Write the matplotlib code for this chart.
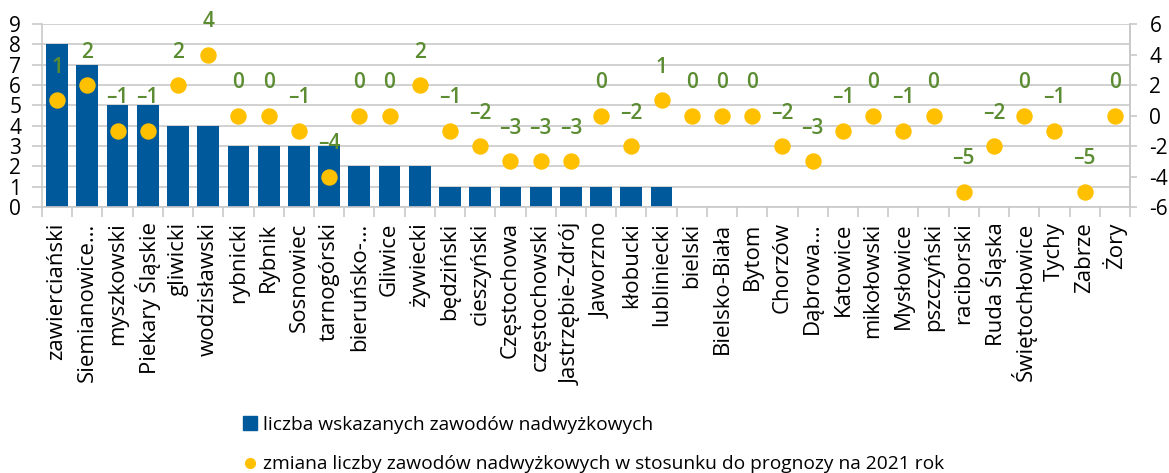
import matplotlib
matplotlib.use("Agg")
import matplotlib.pyplot as plt
from matplotlib.lines import Line2D

categories = [
    "zawierciański", "Siemianowice…", "myszkowski", "Piekary Śląskie",
    "gliwicki", "wodzisławski", "rybnicki", "Rybnik", "Sosnowiec",
    "tarnogórski", "bieruńsko-…", "Gliwice", "żywiecki", "będziński",
    "cieszyński", "Częstochowa", "częstochowski", "Jastrzębie-Zdrój",
    "Jaworzno", "kłobucki", "lubliniecki", "bielski", "Bielsko-Biała",
    "Bytom", "Chorzów", "Dąbrowa…", "Katowice", "mikołowski", "Mysłowice",
    "pszczyński", "raciborski", "Ruda Śląska", "Świętochłowice", "Tychy",
    "Zabrze", "Żory",
]
surplus_count = [8, 7, 5, 5, 4, 4, 3, 3, 3, 3, 2, 2, 2, 1, 1, 1, 1, 1,
                 1, 1, 1, 0, 0, 0, 0, 0, 0, 0, 0, 0, 0, 0, 0, 0, 0, 0]
change_vs_2021 = [1, 2, -1, -1, 2, 4, 0, 0, -1, -4, 0, 0, 2, -1, -2, -3, -3, -3,
                  0, -2, 1, 0, 0, 0, -2, -3, -1, 0, -1, 0, -5, -2, 0, -1, -5, 0]

legend_labels = [
    "liczba wskazanych zawodów nadwyżkowych",
    "zmiana liczby zawodów nadwyżkowych w stosunku do prognozy na 2021 rok",
]

BLUE = "#00599B"
YELLOW = "#FFC000"
GREEN = "#5B8C32"
GRID = "#C9C9C9"

plt.rcParams['font.family'] = ['Open Sans', 'DejaVu Sans']
plt.rcParams['axes.unicode_minus'] = False

fig = plt.figure(figsize=(11.69, 4.73), dpi=100)
ax = fig.add_axes([42 / 1169, 1 - 207 / 473, 1088 / 1169, 183 / 473])

x = list(range(len(categories)))
ax.bar(x, surplus_count, width=0.72, color=BLUE, zorder=2)
ax.set_xlim(-0.5, len(categories) - 0.5)
ax.set_ylim(0, 9)
ax.set_yticks(range(10))
ax.yaxis.grid(True, color=GRID, lw=1.2)
ax.set_axisbelow(True)

ax.set_xticks(x)
ax.set_xticklabels(categories, rotation=90, fontsize=16)
ax.tick_params(axis='x', which='major', length=0, pad=11)
ax.set_xticks([i - 0.5 for i in range(len(categories) + 1)], minor=True)
ax.tick_params(axis='x', which='minor', length=7, color=GRID, width=1.2)
ax.tick_params(axis='y', length=7, color=GRID, width=1.2, labelsize=15, pad=8)
ax.spines['top'].set_visible(False)
for s in ['left', 'right', 'bottom']:
    ax.spines[s].set_color(GRID)
    ax.spines[s].set_linewidth(1.2)

ax2 = ax.twinx()
ax2.set_ylim(-6, 6)
ax2.set_yticks(range(-6, 7, 2))
ax2.tick_params(axis='y', length=5, color=GRID, width=1.2, labelsize=15, pad=9)
for s in ['top', 'left', 'bottom']:
    ax2.spines[s].set_visible(False)
ax2.spines['right'].set_color(GRID)
ax2.spines['right'].set_linewidth(1.2)

ax2.plot(x, change_vs_2021, 'o', color=YELLOW, markersize=10.8, zorder=3)
for i, v in zip(x, change_vs_2021):
    ax2.annotate(str(v).replace('-', '–'), (i, v), xytext=(0, 33),
                 textcoords='offset pixels', ha='center', va='center',
                 color=GREEN, fontsize=15, fontweight='semibold')

handles = [
    Line2D([], [], marker='s', ls='none', color=BLUE, markersize=9.4),
    Line2D([], [], marker='o', ls='none', color=YELLOW, markersize=7),
]
fig.legend(handles, legend_labels, loc='upper left',
           bbox_to_anchor=(242 / 1169, 1 - 416 / 473), frameon=False,
           fontsize=13.8, handlelength=0.8, handletextpad=0.3,
           labelspacing=1.12, borderpad=0, borderaxespad=0)

fig.savefig("out.png", dpi=100)
